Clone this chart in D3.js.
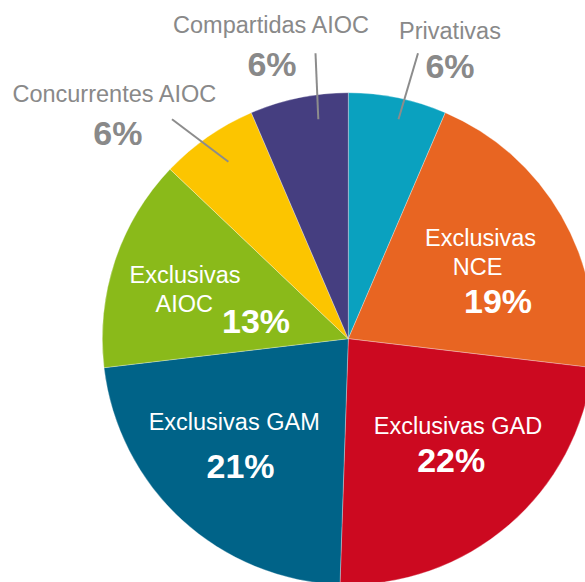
<!DOCTYPE html>
<html>
<head>
<meta charset="utf-8">
<script src="https://cdn.jsdelivr.net/npm/d3@7"></script>
<style>
  html, body { margin: 0; padding: 0; background: #ffffff; }
  svg { display: block; }
  text { font-family: "Liberation Sans", Arial, Helvetica, sans-serif; }
</style>
</head>
<body>
<svg id="chart" width="585" height="582"></svg>
<script>
// ---- data ----
const categories = ["Privativas", "Exclusivas NCE", "Exclusivas GAD", "Exclusivas GAM", "Exclusivas AIOC", "Concurrentes AIOC", "Compartidas AIOC"];
const values = [6, 19, 22, 21, 13, 6, 6];
const valueLabels = ["6%", "19%", "22%", "21%", "13%", "6%", "6%"];
const colors = ["#0aa1bf", "#e86522", "#cc0920", "#006388", "#8aba1a", "#fcc500", "#453e80"];

// ---- layout (label placement) ----
const cx = 348.3, cy = 338.7, radius = 246;
// name lines: [text, x, y]; pct: [x, y]; inside: whether label sits in slice
const labelLayout = [
  { lines: [["Privativas", 450, 39.3]], pct: [450, 78.3], inside: false, leader: [[418, 53.3], [398.5, 119.3]] },
  { lines: [["Exclusivas", 480.5, 246], ["NCE", 477.5, 275]], pct: [498, 312.7], inside: true },
  { lines: [["Exclusivas GAD", 458, 434.3]], pct: [451.2, 471.7], inside: true },
  { lines: [["Exclusivas GAM", 234.2, 430]], pct: [240.5, 477.7], inside: true },
  { lines: [["Exclusivas", 185, 282.7], ["AIOC", 184.3, 311.7]], pct: [256, 333.3], inside: true },
  { lines: [["Concurrentes AIOC", 114.3, 101.7]], pct: [117.8, 145], inside: false, leader: [[172, 119.3], [228.4, 161.7]] },
  { lines: [["Compartidas AIOC", 271, 33.3]], pct: [272, 76], inside: false, leader: [[315.5, 53.3], [318.3, 119.3]] }
];

const svg = d3.select("#chart");
const data = categories.map((c, i) => ({ name: c, value: values[i], color: colors[i], label: valueLabels[i], layout: labelLayout[i] }));

const pie = d3.pie().sort(null).value(d => d.value).startAngle(0).endAngle(2 * Math.PI);
const arc = d3.arc().innerRadius(0).outerRadius(radius);

const g = svg.append("g").attr("transform", `translate(${cx},${cy})`);
g.selectAll("path.slice")
  .data(pie(data))
  .join("path")
  .attr("class", "slice")
  .attr("d", arc)
  .attr("fill", d => d.data.color)
  .attr("stroke", "#ffffff")
  .attr("stroke-width", 0.3);

const gray = "#898989";

// leader lines
svg.selectAll("line.leader")
  .data(data.filter(d => d.layout.leader))
  .join("line")
  .attr("class", "leader")
  .attr("x1", d => d.layout.leader[0][0])
  .attr("y1", d => d.layout.leader[0][1])
  .attr("x2", d => d.layout.leader[1][0])
  .attr("y2", d => d.layout.leader[1][1])
  .attr("stroke", "#8c8c8c")
  .attr("stroke-width", 2);

// labels
data.forEach(d => {
  const col = d.layout.inside ? "#ffffff" : gray;
  d.layout.lines.forEach(([t, x, y]) => {
    svg.append("text")
      .attr("x", x).attr("y", y)
      .attr("text-anchor", "middle")
      .attr("font-size", "23.5px")
      .attr("fill", col)
      .text(t);
  });
  svg.append("text")
    .attr("x", d.layout.pct[0]).attr("y", d.layout.pct[1])
    .attr("text-anchor", "middle")
    .attr("font-size", "34px")
    .attr("font-weight", "bold")
    .attr("fill", col)
    .text(d.label);
});
</script>
</body>
</html>
